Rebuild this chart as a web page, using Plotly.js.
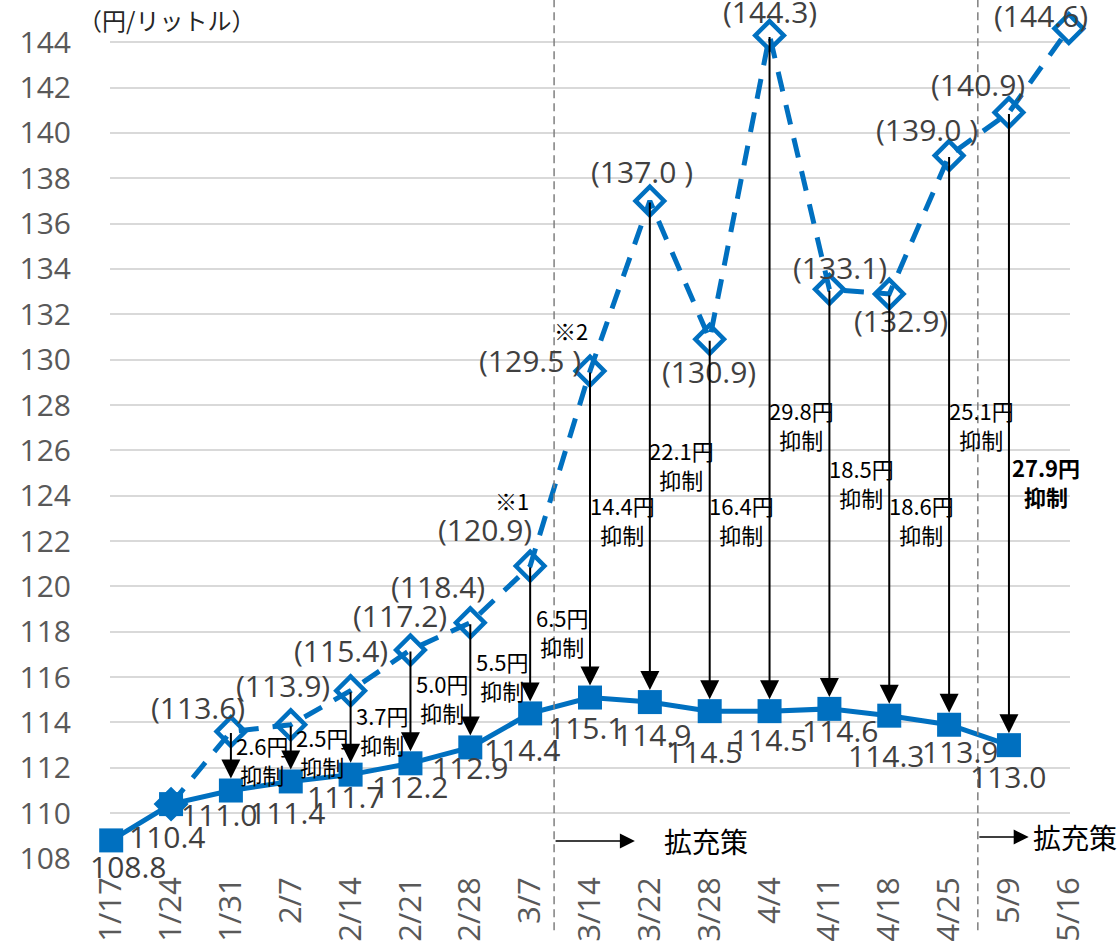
<!DOCTYPE html>
<html><head><meta charset="utf-8">
<script src="https://cdn.plot.ly/plotly-3.0.1.min.js"></script>
<style>html,body{margin:0;padding:0;background:#fff}#chart{width:1118px;height:949px}</style>
</head><body><div id="chart"></div>
<script>
// ---- data ----
const dates = ['1/17','1/24','1/31','2/7','2/14','2/21','2/28','3/7','3/14','3/22','3/28','4/4','4/11','4/18','4/25','5/9','5/16'];
const actualPrice = [108.8,110.4,111.0,111.4,111.7,112.2,112.9,114.4,115.1,114.9,114.5,114.5,114.6,114.3,113.9,113.0,null];
const noSubsidyPrice = [null,110.4,113.6,113.9,115.4,117.2,118.4,120.9,129.5,137.0,130.9,144.3,133.1,132.9,139.0,140.9,144.6];
const noSubsidyLabels = ['','','(113.6)','(113.9)','(115.4)','(117.2)','(118.4)','(120.9)','(129.5 )','(137.0 )','(130.9)','(144.3)','(133.1)','(132.9)','(139.0 )','(140.9)','(144.6)'];
const suppression = [null,null,2.6,2.5,3.7,5.0,5.5,6.5,14.4,22.1,16.4,29.8,18.5,18.6,25.1,27.9,null];
const yTicks = [108,110,112,114,116,118,120,122,124,126,128,130,132,134,136,138,140,142,144];
const unitLabel = '（円/リットル）';
const policyLabel = '拡充策';
const noteLabels = ['※1','※2'];

// ---- styles (label offsets in px) ----
const BLUE = '#0070C0';
const actDx = [17,-4,-11,-3,-5,0,0,-8,-4,4,-5,0,11,-3,11,0,0];
const actDy = [26,32,24,31,22,23,20,36,30,32,40,28,22,40,27,31,0];
const nsDx = [0,0,-33,-8,-10,-10,-32,-45,-60,-8,-1,0,11,12,-22,-31,-28];
const nsDy = [0,0,-24,-39,-40,-34,-36,-37,-10,-29,32,-24,-22,27,-26,-28,-13];
const supShift = [0,0,2,2,3,9,10,8,15,-13,6,-51,17,-15,16,-53,0];

const traces = [
  {x: dates, y: noSubsidyPrice, type:'scatter', mode:'lines+markers', cliponaxis:false,
   line:{color:BLUE, width:5, dash:'20px,14px'},
   marker:{symbol:'diamond-open', size:22, color:BLUE, line:{width:4.5, color:BLUE}},
   hoverinfo:'skip'},
  {x: dates, y: actualPrice, type:'scatter', mode:'lines+markers', cliponaxis:false,
   line:{color:BLUE, width:5},
   marker:{symbol:'square', size:24, color:BLUE},
   hoverinfo:'skip'}
];

const ann = [];
// data labels
dates.forEach((d,i)=>{
  if (actualPrice[i] != null) {
    ann.push({x:d, y:actualPrice[i], xref:'x', yref:'y', text:actualPrice[i].toFixed(1), showarrow:false,
      xshift:actDx[i], yshift:-actDy[i], xanchor:'center', yanchor:'middle',
      font:{family:'Open Sans', size:30, color:'#404040'}});
  }
  if (noSubsidyPrice[i] != null && noSubsidyLabels[i]) {
    ann.push({x:d, y:noSubsidyPrice[i], xref:'x', yref:'y', text:noSubsidyLabels[i], showarrow:false,
      xshift:nsDx[i], yshift:-nsDy[i], xanchor:'center', yanchor:'middle',
      font:{family:'Open Sans', size:30, color:'#404040'}});
  }
});
// arrows and suppression labels
dates.forEach((d,i)=>{
  if (suppression[i] == null) return;
  ann.push({x:d, y:actualPrice[i], ax:d, ay:noSubsidyPrice[i], xref:'x', yref:'y', axref:'x', ayref:'y',
    text:'', showarrow:true, arrowhead:2, arrowwidth:2, arrowsize:1.9, arrowcolor:'#000', standoff:12});
  const bold = (i === 15);
  const t = suppression[i].toFixed(1) + '円<br>抑制';
  ann.push({x:d, y:(actualPrice[i]+noSubsidyPrice[i])/2, xref:'x', yref:'y',
    text: bold ? '<b>'+t+'</b>' : t, showarrow:false, xshift: bold ? 37 : 32, yshift:supShift[i],
    xanchor:'center', yanchor:'middle', align:'center',
    font:{family:'Noto Sans CJK JP', size:22, color:'#000'}});
});
// notes
ann.push({x:6.70, y:123.8, xref:'x', yref:'y', text:noteLabels[0], showarrow:false, font:{family:'Noto Sans CJK JP', size:22, color:'#000'}});
ann.push({x:7.69, y:131.3, xref:'x', yref:'y', text:noteLabels[1], showarrow:false, font:{family:'Noto Sans CJK JP', size:22, color:'#000'}});
// policy arrows
ann.push({x:8.75, y:108.77, ax:7.4, ay:108.77, xref:'x', yref:'y', axref:'x', ayref:'y', text:'', showarrow:true,
  arrowhead:2, arrowwidth:1.5, arrowsize:2, arrowcolor:'#000'});
ann.push({x:9.93, y:108.77, xref:'x', yref:'y', text:policyLabel, showarrow:false, xanchor:'center',
  font:{family:'Noto Sans CJK JP', size:28, color:'#000'}});
ann.push({x:15.33, y:108.95, ax:14.48, ay:108.95, xref:'x', yref:'y', axref:'x', ayref:'y', text:'', showarrow:true,
  arrowhead:2, arrowwidth:1.5, arrowsize:2, arrowcolor:'#000'});
ann.push({x:15.37, y:108.95, xref:'x', yref:'y', text:policyLabel, showarrow:false, xanchor:'left',
  font:{family:'Noto Sans CJK JP', size:28, color:'#000'}});
// unit
ann.push({x:0.059, y:0.977, xref:'paper', yref:'paper', text:unitLabel, showarrow:false, xanchor:'center', yanchor:'middle',
  font:{family:'Noto Sans CJK JP', size:24, color:'#262626'}});

const layout = {
  width:1118, height:949,
  margin:{l:110, r:48, t:0, b:90, pad:0},
  paper_bgcolor:'#fff', plot_bgcolor:'#fff',
  showlegend:false,
  font:{family:'Open Sans, sans-serif', color:'#595959'},
  xaxis:{type:'category', categoryarray:dates, range:[-0.02,16.02], tickangle:-90,
    tickfont:{size:31, color:'#595959'}, showgrid:false, zeroline:false, showline:false, ticks:'',
    ticklabelstandoff:11, automargin:false},
  yaxis:{range:[107.98,145.86], tickvals:yTicks, showgrid:true, gridcolor:'#d9d9d9', gridwidth:2,
    tickfont:{size:30, color:'#595959'}, ticklabelstandoff:38, zeroline:false, showline:false, ticks:'', automargin:false},
  shapes:[
    {type:'line', xref:'x', yref:'paper', x0:7.4, x1:7.4, y0:-0.083, y1:1, line:{color:'#7f7f7f', width:1.5, dash:'8px,5px'}},
    {type:'line', xref:'x', yref:'paper', x0:14.48, x1:14.48, y0:-0.083, y1:1, line:{color:'#7f7f7f', width:1.5, dash:'8px,5px'}}
  ],
  annotations: ann
};

Plotly.newPlot('chart', traces, layout, {staticPlot:true, displayModeBar:false});
</script>
</body></html>
